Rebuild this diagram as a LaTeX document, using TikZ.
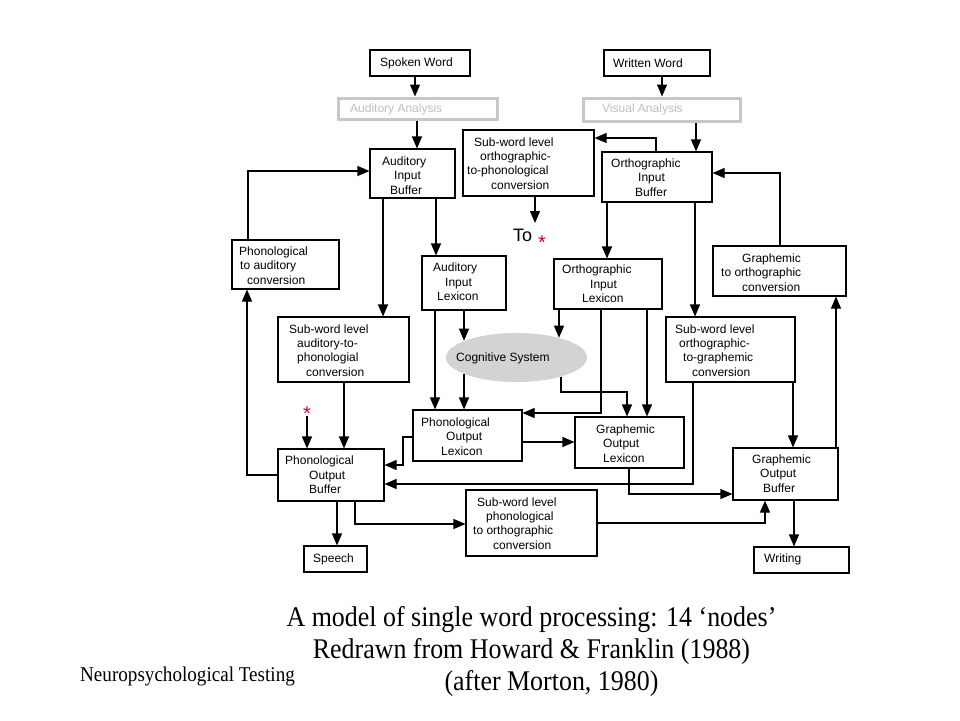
\documentclass[tikz,border=0pt]{standalone}
\usepackage{fontspec}
\setmainfont{Liberation Sans}
\newfontfamily\capfont[FakeStretch=0.91]{Liberation Serif}
\usetikzlibrary{arrows.meta,shapes.geometric}
\definecolor{starred}{RGB}{204,0,51}
\definecolor{anagray}{RGB}{200,200,200}
\definecolor{anatext}{RGB}{190,190,190}
\definecolor{coggray}{RGB}{211,211,211}
\newcommand\mybox[6][box]{\node[#1, minimum width={#5-#3}, minimum height={#6-#4}] (#2) at ({(#3+#5)/2},{(#4+#6)/2}) {};}
\begin{document}
\begin{tikzpicture}[x=1pt,y=-1pt,
  box/.style={draw=black, line width=1.1pt, inner sep=0pt, rectangle},
  graybox/.style={draw=anagray, line width=3pt, inner sep=0pt, rectangle},
  txt/.style={inner sep=0pt, anchor=west, align=left, font=\fontsize{12}{14.3}\selectfont},
  arr/.style={line width=1.1pt, -{Triangle[length=12pt,width=10pt]}},
  capline/.style={inner sep=0pt, anchor=base, font=\capfont\fontsize{28.5}{30}\selectfont},
  starmark/.style={inner sep=0pt, anchor=base, text=starred, font=\fontsize{20}{20}\selectfont},
]
\fill[white] (0,0) rectangle (960,720);
\useasboundingbox (0,0) rectangle (960,720);

% boxes
\mybox{spoken}{370}{50}{470}{76}
\mybox{written}{604}{50}{710}{76}
\mybox[graybox]{audan}{338}{98}{497}{119}
\mybox[graybox]{visan}{583}{98}{740}{121}
\mybox{aib}{370}{149}{455}{198}
\mybox{sop}{463}{130}{594}{196}
\mybox{oib}{602}{152}{712}{202}
\mybox{pac}{232}{240}{339}{289}
\mybox{ail}{422}{256}{506}{310}
\mybox{oil}{554}{259}{662}{309}
\mybox{gto}{713}{246}{846}{296}
\mybox{sap}{278}{317}{409}{382}
\mybox{otg}{666}{317}{795}{382}
\mybox{pol}{413}{410}{522}{461}
\mybox{gol}{575}{417}{684}{468}
\mybox{pob}{278}{449}{384}{501}
\mybox{gob}{733}{448}{838}{500}
\mybox{pto}{466}{490}{597}{556}
\mybox{speech}{304}{546}{367}{572}
\mybox{writing}{754}{547}{849}{573}
\node[ellipse, fill=coggray, minimum width=141pt, minimum height=49pt, inner sep=0pt] (cog) at (516.5,357.5) {};

% texts
\node[txt] (tspoken) at (380,63) {Spoken Word};
\node[txt] (twritten) at (613,63) {Written Word};
\node[txt, text=anatext] (taudan) at (350,109) {Auditory Analysis};
\node[txt, text=anatext] (tvisan) at (602,109) {Visual Analysis};
\node[txt] (taib) at (382,175.5) {Auditory\\\hspace*{12pt}Input\\\hspace*{8pt}Buffer};
\node[txt] (tsop) at (467,163.5) {\hspace*{7pt}Sub-word level\\\hspace*{13pt}orthographic-\\to-phonological\\\hspace*{24pt}conversion};
\node[txt] (toib) at (611,177.5) {Orthographic\\\hspace*{27pt}Input\\\hspace*{24pt}Buffer};
\node[txt] (tpac) at (239,265.5) {Phonological\\\hspace*{1pt}to auditory\\\hspace*{8pt}conversion};
\node[txt] (tail) at (433,282) {Auditory\\\hspace*{12pt}Input\\\hspace*{4pt}Lexicon};
\node[txt] (toil) at (562,284) {Orthographic\\\hspace*{28pt}Input\\\hspace*{20pt}Lexicon};
\node[txt] (tgto) at (721,272.5) {\hspace*{21pt}Graphemic\\to orthographic\\\hspace*{21pt}conversion};
\node[txt] (tsap) at (289,350.5) {Sub-word level\\\hspace*{8pt}auditory-to-\\\hspace*{8pt}phonologial\\\hspace*{17pt}conversion};
\node[txt] (tcog) at (456,358) {Cognitive System};
\node[txt] (totg) at (675,350.5) {Sub-word level\\\hspace*{4pt}orthographic-\\\hspace*{8pt}to-graphemic\\\hspace*{17pt}conversion};
\node[txt] (tpol) at (421,436.5) {Phonological\\\hspace*{25pt}Output\\\hspace*{20pt}Lexicon};
\node[txt] (tgol) at (596,443.5) {Graphemic\\\hspace*{7pt}Output\\\hspace*{7pt}Lexicon};
\node[txt] (tpob) at (285,475) {Phonological\\\hspace*{24pt}Output\\\hspace*{24pt}Buffer};
\node[txt] (tgob) at (752,473.5) {Graphemic\\\hspace*{8pt}Output\\\hspace*{11pt}Buffer};
\node[txt] (tpto) at (473,523.5) {\hspace*{4pt}Sub-word level\\\hspace*{13pt}phonological\\to orthographic\\\hspace*{20pt}conversion};
\node[txt] (tspeech) at (313,559) {Speech};
\node[txt] (twriting) at (764,559) {Writing};

\node[inner sep=0pt, anchor=base west, font=\fontsize{18}{18}\selectfont] (to) at (513,241) {To};
\node[starmark] (star1) at (542,249) {*};
\node[starmark] (star2) at (307,420) {*};
\coordinate (toend) at (535,223);

% connectors
\draw[arr] (415,0 |- spoken.south) -- (415,0 |- audan.north);
\draw[arr] (417,0 |- audan.south) -- (417,0 |- aib.north);
\draw[arr] (662,0 |- written.south) -- (662,0 |- visan.north);
\draw[arr] (696,0 |- visan.south) -- (696,0 |- oib.north);
\draw[arr] (656,0 |- oib.north) |- (sop.east |- 0,138);
\draw[arr] (535,0 |- sop.south) -- (toend);
\draw[arr] (383,0 |- aib.south) -- (383,0 |- sap.north);
\draw[arr] (436,0 |- aib.south) -- (436,0 |- ail.north);
\draw[arr] (248,0 |- pac.north) |- (aib.west |- 0,171);
\draw[arr] (pob.west |- 0,475) -| (247,0 |- pac.south);
\draw[arr] (344,0 |- sap.south) -- (344,0 |- pob.north);
\draw[arr] ([yshift=4pt]star2.south) -- (star2.south |- pob.north);
\draw[arr] (435,0 |- ail.south) -- (435,0 |- pol.north);
\draw[arr] (464,0 |- ail.south) -- (464,0 |- cog.162);
\draw[arr] (464,0 |- cog.198) -- (464,0 |- pol.north);
\draw[arr] (559,0 |- oil.south) -- (559,0 |- cog.25);
\draw[arr] (561,0 |- cog.-25) |- (627,392) -- (627,0 |- gol.north);
\draw[arr] (601,0 |- oil.south) |- (pol.east |- 0,413);
\draw[arr] (647,0 |- oil.south) -- (647,0 |- gol.north);
\draw[arr] (607,0 |- oib.south) -- (607,0 |- oil.north);
\draw[arr] (695,0 |- oib.south) -- (695,0 |- otg.north);
\draw[arr] (780,0 |- gto.north) |- (oib.east |- 0,173);
\draw[arr] (836,0 |- gob.north) -- (836,0 |- gto.south);
\draw[arr] (793,0 |- otg.south) -- (793,0 |- gob.north);
\draw[arr] (693,0 |- otg.south) |- (pob.east |- 0,484);
\draw[arr] (pol.west |- 0,437) -- (403,437) |- (pob.east |- 0,465);
\draw[arr] (pol.east |- 0,442) -- (gol.west |- 0,442);
\draw[arr] (629,0 |- gol.south) |- (gob.west |- 0,494);
\draw[arr] (355,0 |- pob.south) |- (pto.west |- 0,524);
\draw[arr] (pto.east |- 0,523) -| (765,0 |- gob.south);
\draw[arr] (337,0 |- pob.south) -- (337,0 |- speech.north);
\draw[arr] (794,0 |- gob.south) -- (794,0 |- writing.north);

% caption
\node[capline] (cap1) at (531.5,626) {A model of single word processing: 14 ‘nodes’};
\node[capline] (cap2) at (531.5,658) {Redrawn from Howard \& Franklin (1988)};
\node[capline] (cap3) at (551.5,690) {(after Morton, 1980)};
\node[inner sep=0pt, anchor=base west, font=\capfont\fontsize{21}{21}\selectfont] (neuro) at (80,681) {Neuropsychological Testing};
\end{tikzpicture}
\end{document}
